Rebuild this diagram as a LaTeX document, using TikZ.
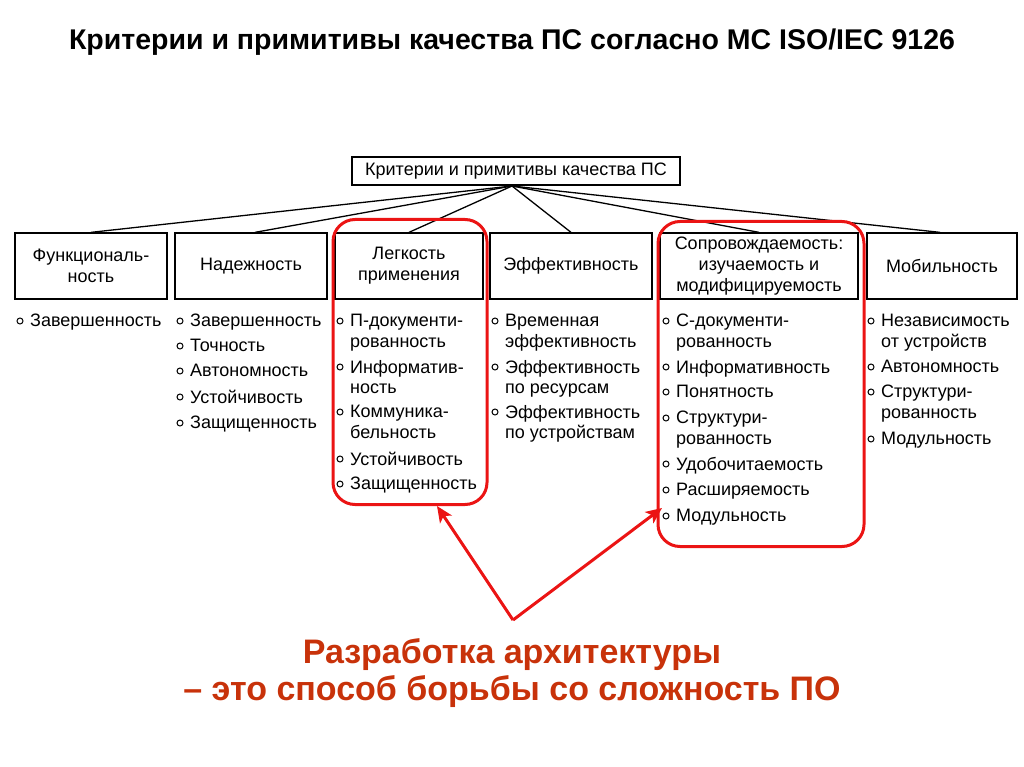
\documentclass[tikz,border=0pt]{standalone}
\usepackage{fontspec}
\setmainfont{Liberation Sans}
\usetikzlibrary{arrows.meta}
\definecolor{redbox}{RGB}{235,20,20}
\definecolor{redtext}{RGB}{200,50,10}
\begin{document}
\begin{tikzpicture}[x=1pt,y=-1pt,
  cat/.style={draw,line width=1.3pt,minimum height=66pt,align=center,font=\fontsize{18}{21}\selectfont,inner sep=1pt},
  itm/.style={anchor=north west,align=left,font=\fontsize{18}{20.5}\selectfont,inner sep=0pt},
  bul/.style={circle,draw,line width=1pt,minimum size=6pt,inner sep=0pt},
  link/.style={line width=1.3pt},
  hl/.style={draw=redbox,line width=3pt,rounded corners=22pt},
  arr/.style={draw=redbox,line width=3pt,-{Stealth[length=16pt,width=14pt,inset=4pt]}}]
\useasboundingbox (0,0) rectangle (1024,767);
\node[font=\bfseries\fontsize{28.5}{32}\selectfont] (title) at (512,42) {Критерии и примитивы качества ПС согласно МС ISO/IEC 9126};
\node[draw,line width=1.3pt,minimum width=328pt,minimum height=28pt,font=\fontsize{18}{20}\selectfont] (root) at (516,171) {Критерии и примитивы качества ПС};
\coordinate (hub) at (512,186);
\node[cat,minimum width=152pt] (c1) at (91,266) {Функциональ-\\ность};
\node[cat,minimum width=152pt] (c2) at (251,266) {Надежность};
\node[cat,minimum width=148pt] (c3) at (409,266) {Легкость\\применения};
\node[cat,minimum width=162pt] (c4) at (571,266) {Эффективность};
\node[cat,minimum width=198pt] (c5) at (759,266) {Сопровождаемость:\\изучаемость и\\модифицируемость};
\node[cat,minimum width=150pt] (c6) at (942,266) {Мобильность};
\draw[link] (hub) -- (c1.north);
\draw[link] (hub) -- ([xshift=4pt]c2.north);
\draw[link] (hub) -- (c3.north);
\draw[link] (hub) -- (c4.north);
\draw[link] (hub) -- (c5.north);
\draw[link] (hub) -- ([xshift=-2pt]c6.north);
% items
\newcommand{\itemat}[4]{\node[bul] (#1b) at (#2,#3+10) {}; \node[itm] (#1) at (#2+10,#3+3) {#4};}
\itemat{a1}{20}{311}{Завершенность}
\itemat{b1}{180}{311}{Завершенность}
\itemat{b2}{180}{336}{Точность}
\itemat{b3}{180}{361}{Автономность}
\itemat{b4}{180}{387}{Устойчивость}
\itemat{b5}{180}{413}{Защищенность}
\itemat{l1}{340}{311}{П-документи-\\рованность}
\itemat{l2}{340}{357}{Информатив-\\ность}
\itemat{l3}{340}{402}{Коммуника-\\бельность}
\itemat{l4}{340}{449}{Устойчивость}
\itemat{l5}{340}{474}{Защищенность}
\itemat{e1}{495}{311}{Временная\\эффективность}
\itemat{e2}{495}{357}{Эффективность\\по ресурсам}
\itemat{e3}{495}{402}{Эффективность\\по устройствам}
\itemat{s1}{666}{311}{С-документи-\\рованность}
\itemat{s2}{666}{357}{Информативность}
\itemat{s3}{666}{382}{Понятность}
\itemat{s4}{666}{408}{Структури-\\рованность}
\itemat{s5}{666}{454}{Удобочитаемость}
\itemat{s6}{666}{480}{Расширяемость}
\itemat{s7}{666}{506}{Модульность}
\itemat{m1}{871}{311}{Независимость\\от устройств}
\itemat{m2}{871}{357}{Автономность}
\itemat{m3}{871}{382}{Структури-\\рованность}
\itemat{m4}{871}{429}{Модульность}
% highlights
\node[hl,minimum width=154pt,minimum height=285pt] (h1) at (410,362) {};
\node[hl,minimum width=206pt,minimum height=325pt] (h2) at (761,384) {};
\node[font=\bfseries\fontsize{34}{37}\selectfont,text=redtext,align=center] (msg) at (512,673) {Разработка архитектуры\\– это способ борьбы со сложность ПО};
\coordinate (tip) at (513,620);
\draw[arr] (tip) -- (437,506);
\draw[arr] (tip) -- (662,508);
\end{tikzpicture}
\end{document}
